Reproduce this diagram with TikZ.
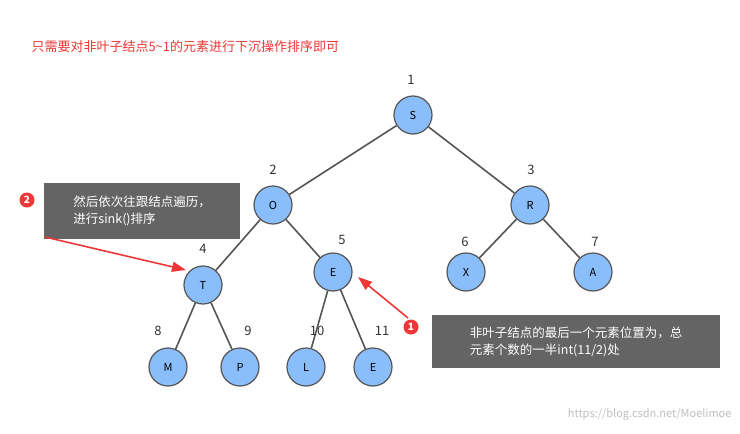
\documentclass[tikz,border=0pt]{standalone}
\usepackage{fontspec}
\setmainfont{Noto Sans CJK SC}
\usetikzlibrary{arrows.meta}
\definecolor{nodeblue}{RGB}{138,190,250}
\definecolor{edgegray}{RGB}{85,85,85}
\definecolor{redc}{RGB}{240,55,55}
\definecolor{boxgray}{RGB}{100,100,100}
\tikzset{
  tn/.style={circle,draw=edgegray,line width=1.2pt,fill=nodeblue,minimum size=38pt,inner sep=0pt,font=\fontsize{11}{12}\selectfont},
  edge/.style={draw=edgegray,line width=1.6pt},
  num/.style={font=\fontsize{13}{14}\selectfont,text=black!80},
  callbox/.style={fill=boxgray,text=white,align=left,font=\fontsize{12.5}{17}\selectfont,inner sep=5pt,anchor=north west},
  badge/.style={circle,fill=redc,text=white,minimum size=15pt,inner sep=0pt,font=\fontsize{10}{10}\selectfont\bfseries},
  redarrow/.style={draw=redc,line width=1.6pt,-{Triangle[length=14pt,width=10pt]}}
}
\begin{document}
\begin{tikzpicture}[x=1pt,y=-1pt]
\useasboundingbox[fill=white] (0,0) rectangle (740,434);
\node[anchor=west,text=redc,font=\fontsize{13}{14}\selectfont] (title) at (28,47) {只需要对非叶子结点5\textasciitilde 1的元素进行下沉操作排序即可};
\node[tn] (S) at (413,115) {S};
\node[tn] (O) at (273,205) {O};
\node[tn] (R) at (530,205) {R};
\node[tn] (T) at (203,285) {T};
\node[tn] (E) at (333,272) {E};
\node[tn] (X) at (466,272) {X};
\node[tn] (A) at (593,272) {A};
\node[tn] (M) at (168,367) {M};
\node[tn] (P) at (240,367) {P};
\node[tn] (L) at (306,367) {L};
\node[tn] (E2) at (373,367) {E};
\begin{scope}[on background layer/.style={}]
\end{scope}
\draw[edge] (S) -- (O); \draw[edge] (S) -- (R);
\draw[edge] (O) -- (T); \draw[edge] (O) -- (E);
\draw[edge] (R) -- (X); \draw[edge] (R) -- (A);
\draw[edge] (T) -- (M); \draw[edge] (T) -- (P);
\draw[edge] (E) -- (L); \draw[edge] (E) -- (E2);
\node[num] (n1) at (411,80) {1};
\node[num] (n2) at (273,170) {2};
\node[num] (n3) at (531,170) {3};
\node[num] (n4) at (203,249) {4};
\node[num] (n5) at (342,240) {5};
\node[num] (n6) at (465,242) {6};
\node[num] (n7) at (595,242) {7};
\node[num] (n8) at (158,331) {8};
\node[num] (n9) at (248,331) {9};
\node[num] (n10) at (317,331) {10};
\node[num] (n11) at (382,331) {11};
\node[callbox,minimum width=196pt,minimum height=56pt] (b2) at (44,183) {然后依次往跟结点遍历，\\进行sink()排序};
\node[badge] (c2) at (27,200) {2};
\node[callbox,minimum width=288pt,minimum height=53pt] (b1) at (432,315) {非叶子结点的最后一个元素位置为，总\\元素个数的一半int(11/2)处};
\node[badge] (c1) at (411,327) {1};
\coordinate (a2s) at (45,237);
\coordinate (a2e) at (186,270);
\coordinate (a1s) at (408,318);
\coordinate (a1e) at (358,277);
\draw[redarrow] (a2s) -- (a2e);
\draw[redarrow] (a1s) -- (a1e);
\node[anchor=east,text=black!25,font=\fontsize{11}{12}\selectfont] (wm) at (735,414) {https://blog.csdn.net/Moelimoe};
\end{tikzpicture}
\end{document}
